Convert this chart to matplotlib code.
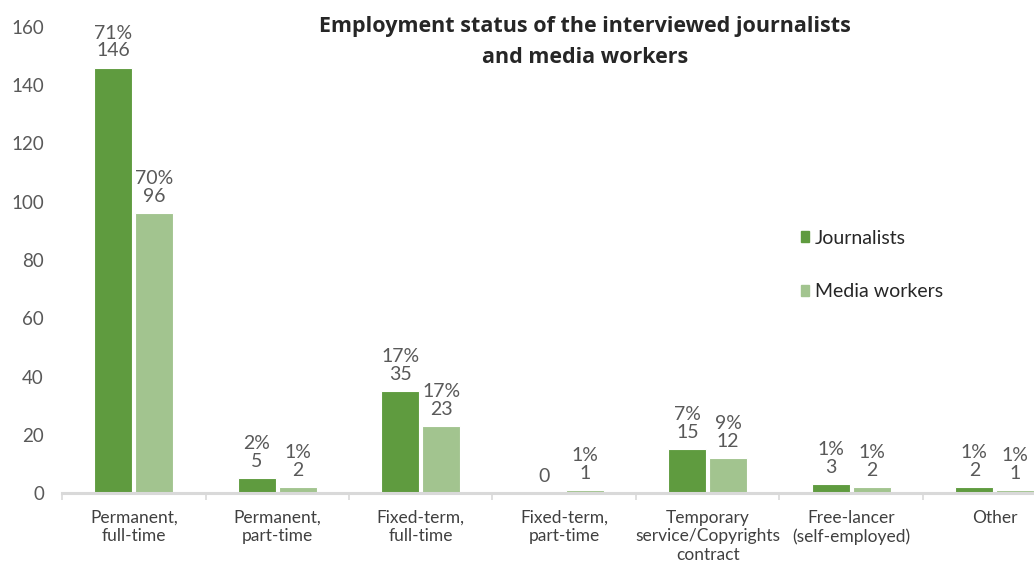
import numpy as np
import matplotlib.pyplot as plt
from matplotlib.patches import Patch

categories = ["Permanent,\nfull-time", "Permanent,\npart-time", "Fixed-term,\nfull-time",
              "Fixed-term,\npart-time", "Temporary\nservice/Copyrights\ncontract",
              "Free-lancer\n(self-employed)", "Other"]
journalists = [146, 5, 35, 0, 15, 3, 2]
media_workers = [96, 2, 23, 1, 12, 2, 1]
journalists_pct = ["71%", "2%", "17%", "", "7%", "1%", "1%"]
media_pct = ["70%", "1%", "17%", "1%", "9%", "1%", "1%"]

dark = "#5F9B3F"
light = "#A2C48F"
grey = "#595959"

plt.rcParams['font.family'] = ['Lato', 'DejaVu Sans']

fig = plt.figure(figsize=(10.34, 5.69), dpi=100)
ax = fig.add_axes([62 / 1034, 1 - 493 / 569, 1 - 62 / 1034, (493 - 27) / 569])

x = np.arange(len(categories))
w = 0.265
off = 0.142
b1 = ax.bar(x - off, journalists, w, color=dark, edgecolor="white", linewidth=0.8)
b2 = ax.bar(x + off, media_workers, w, color=light, edgecolor="white", linewidth=0.8)

for bars, vals, pcts in [(b1, journalists, journalists_pct), (b2, media_workers, media_pct)]:
    for r, v, p in zip(bars, vals, pcts):
        txt = f"{p}\n{v}" if p else f"{v}"
        ax.annotate(txt, (r.get_x() + r.get_width() / 2, v), xytext=(0, 6),
                    textcoords="offset points", ha="center", va="bottom",
                    fontsize=14, color=grey, linespacing=1.05)

ax.set_ylim(0, 160)
ax.set_xlim(-0.5, -0.5 + (1034 - 62) / 143.5)
ax.set_yticks(range(0, 161, 20))
ax.tick_params(axis="y", length=0, pad=13, labelsize=13.5, labelcolor=grey)
ax.set_xticks(x)
ax.set_xticklabels(categories, fontsize=12.5, color="#404040", linespacing=1.2)
ax.tick_params(axis="x", which="major", length=0, pad=12)
ax.set_xticks(np.arange(len(categories)) - 0.5, minor=True)
ax.tick_params(axis="x", which="minor", length=5, color="#D9D9D9", width=1.2)

for s in ["top", "right", "left"]:
    ax.spines[s].set_visible(False)
ax.spines["bottom"].set_color("#D9D9D9")
ax.spines["bottom"].set_linewidth(2.2)

fig.text(585 / 1034, 1 - 42 / 569,
         "Employment status of the interviewed journalists\nand media workers",
         ha="center", va="center", fontsize=15.5, fontweight="bold", color="#262626",
         family="Open Sans", linespacing=1.6)

handles = [Patch(color=dark), Patch(color=light)]
ax.legend(handles, ["Journalists", "Media workers"], loc="upper left",
          bbox_to_anchor=(783 / 1034, 1 - 212 / 569), bbox_transform=fig.transFigure,
          frameon=False, fontsize=14, labelcolor="#262626", handlelength=0.45, handleheight=0.45,
          handletextpad=0.3, labelspacing=1.9)

fig.savefig("out.png", dpi=100)
